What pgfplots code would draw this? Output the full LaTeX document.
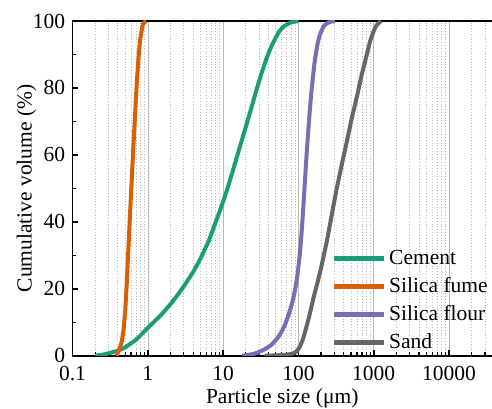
\documentclass[border=0pt]{standalone}
\usepackage{fontspec}
\setmainfont{Liberation Serif}
\usepackage{pgfplots}
\pgfplotsset{compat=1.18}
\definecolor{cem}{HTML}{1B9E77}
\definecolor{sfume}{HTML}{D95F02}
\definecolor{sflour}{HTML}{7570B3}
\definecolor{sand}{HTML}{666666}
\newcommand{\ff}{\fontsize{21.5bp}{25bp}\selectfont}
\begin{document}
\ff
\begin{tikzpicture}
\begin{axis}[
  scale only axis, width=419.5bp, height=334.7bp,
  xmode=log, log basis x=10,
  xmin=0.1, xmax=37240, ymin=0, ymax=100,
  axis x line=box, axis y line=left,
  axis line style={line width=1.6bp, black},
  x axis line style={-}, y axis line style={-},
  xtick pos=bottom, ytick pos=left,
  tick align=inside,
  major tick length=6bp, minor tick length=4bp,
  major tick style={line width=1.6bp, black},
  minor tick style={line width=1.2bp, black},
  xtick={0.1,1,10,100,1000,10000},
  xticklabels={0.1,1,10,100,1000,10000},
  minor xtick={0.2,0.3,0.4,0.5,0.6,0.7,0.8,0.9,2,3,4,5,6,7,8,9,20,30,40,50,60,70,80,90,200,300,400,500,600,700,800,900,2000,3000,4000,5000,6000,7000,8000,9000,20000,30000},
  ytick={0,20,40,60,80,100},
  minor y tick num=1,
  /pgf/number format/assume math mode=true,
  tick label style={font=\ff},
  xticklabel style={yshift=-3bp},
  label style={font=\ff},
  xmajorgrids=true, xminorgrids=true,
  major x grid style={line width=0.6bp, color=black!28},
  minor x grid style={line width=0.8bp, dotted, color=black!27},
  xlabel={Particle size (μm)},
  ylabel={Cumulative volume (\%)},
  xlabel style={at={(axis description cs:0.5,-0.1264)}, anchor=center},
  ylabel style={at={(axis description cs:-0.110,0.5)}, anchor=center},
  legend style={draw=none, fill=none, font=\ff, inner sep=0pt,
    at={(axis description cs:0.6186,0.3263)}, anchor=north west,
    row sep=4bp, column sep=0bp,
    nodes={inner sep=2.5bp, text height=15bp, text depth=4bp}},
  legend cell align=left,
  legend image code/.code={\draw[#1, line width=4.5bp] (0bp,0bp) -- (50bp,0bp);},
  every axis plot/.append style={line width=4bp, smooth, tension=0.3},
]
\addplot[cem] coordinates {
(0.2,0) (0.25,0.3) (0.3,0.7) (0.4,1.5) (0.5,2.5) (0.7,4.8) (1,8.3) (1.5,12.2)
(2,15.4) (2.5,18.2) (3,20.7) (4,25) (5,29) (6.36,34) (8,40) (10,46) (12,51.5) (14.4,57.5)
(17,63) (19.5,67.5) (23,73) (27,78.5) (32,84) (38,89) (45,93) (55,96.7) (65,98.5)
(80,99.6) (100,100)
};
\addlegendentry{Cement}
\addplot[sfume] coordinates {
(0.386,0) (0.42,2) (0.45,4.2) (0.475,7.5) (0.5,13) (0.525,21.5) (0.55,31) (0.58,42)
(0.61,52) (0.642,62) (0.68,72.5) (0.712,81) (0.75,88.5) (0.787,93.8) (0.83,97.3)
(0.871,99.2) (0.95,100)
};
\addlegendentry{Silica fume}
\addplot[sflour] coordinates {
(18,0) (25,0.5) (30,1.1) (36,2) (44,3.3) (55,5.8) (65,8.8) (73,11.8) (82,15.5)
(90,19.5) (97,24) (104,30) (110,36.5) (116,44) (122,52) (128,59.5) (135,67)
(142,73.5) (150,79.5) (158,84.5) (166,88.5) (180,93.3) (194,96) (215,98.3)
(238,99.3) (270,99.8) (306,100)
};
\addlegendentry{Silica flour}
\addplot[sand] coordinates {
(36,0) (50,0.1) (70,0.3) (85,0.7) (95,1.3) (105,2.8) (115,5) (125,7.8) (140,12)
(158,17.1) (180,22) (204,27.1) (240,34.5) (277,42) (320,49.5) (376,57) (440,64)
(511,70.9) (600,77.5) (693,83.9) (800,89.5) (892,93.8) (1000,97) (1097,98.8) (1250,100)
};
\addlegendentry{Sand}
\coordinate (BL) at (rel axis cs:0,0);
\coordinate (TR) at (rel axis cs:1,1);
\end{axis}
\pgfresetboundingbox
\path[use as bounding box] ([xshift=-72.5bp,yshift=-53.3bp]BL) rectangle ([yshift=21bp]TR);
\end{tikzpicture}
\end{document}
